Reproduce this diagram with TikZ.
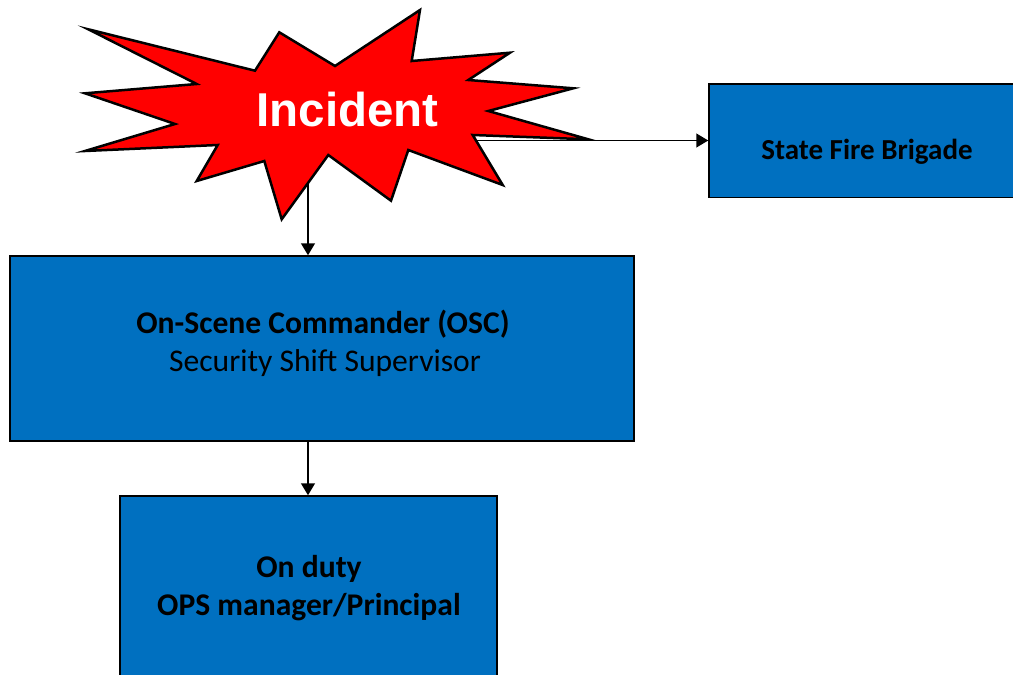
\documentclass[tikz,border=0pt]{standalone}
\usepackage{fontspec}
\setmainfont{Carlito}
\newfontfamily\arialfont{Liberation Sans}
\usetikzlibrary{arrows.meta}
\definecolor{boxblue}{RGB}{0,112,192}
\begin{document}
\begin{tikzpicture}[x=1pt,y=-1pt,
  box/.style={draw=black, line width=1.5pt, fill=boxblue, inner sep=0pt},
  boxtext/.style={anchor=base, inner sep=0pt, font=\fontsize{31.6}{38}\selectfont},
  firetext/.style={anchor=base, inner sep=0pt, font=\fontsize{29}{35}\selectfont},
  conn/.style={line width=1.5pt, -{Triangle[width=14pt,length=12pt]}},
  burst/.style={draw=black, fill=red, line width=2.5pt, line join=miter}]
\useasboundingbox (0,0) rectangle (1013,675);
% starburst
\draw[burst] (88.3,29.3) -- (255,70.7) -- (279.3,32.3) -- (335,66) -- (420,10)
  -- (411.7,61) -- (510,52.7) -- (468.3,80) -- (573.3,88.3) -- (488.3,111)
  -- (588.3,139.3) -- (472.7,135) -- (502.7,185) -- (408.3,150) -- (391,200.7)
  -- (328.3,155) -- (281.7,219.3) -- (264.3,161) -- (196.7,181) -- (217.7,145)
  -- (85,151) -- (175,124) -- (85,93.3) -- (196.7,84) -- cycle;
\node[anchor=base, inner sep=0pt, text=white, font=\arialfont\bfseries\fontsize{47.5}{57}\selectfont] (incident) at (347.5,126) {Incident};
\coordinate (incS) at (308,183);
\coordinate (incE) at (476,140.5);
% boxes
\node[box, minimum width=624pt, minimum height=185pt] (osc) at (322,348.5) {};
\node[box, minimum width=316pt, minimum height=113.5pt] (fire) at (867,140.75) {};
\node[box, minimum width=377pt, minimum height=224pt] (duty) at (308.5,608) {};
% texts
\node[firetext] (fireT) at (867,159) {\bfseries State Fire Brigade};
\node[boxtext] (oscA) at (323,333.5) {\bfseries On-Scene Commander (OSC)};
\node[boxtext] (oscB) at (325,371.5) {Security Shift Supervisor};
\node[boxtext] (dutyA) at (309,577) {\bfseries On duty};
\node[boxtext] (dutyB) at (309,615) {\bfseries OPS manager/Principal};
% connectors
\draw[conn] (incE) -- (incE -| fire.west);
\draw[conn] (incS) -- (incS |- osc.north);
\draw[conn] (osc.south -| incS) -- (incS |- duty.north);
\end{tikzpicture}
\end{document}
